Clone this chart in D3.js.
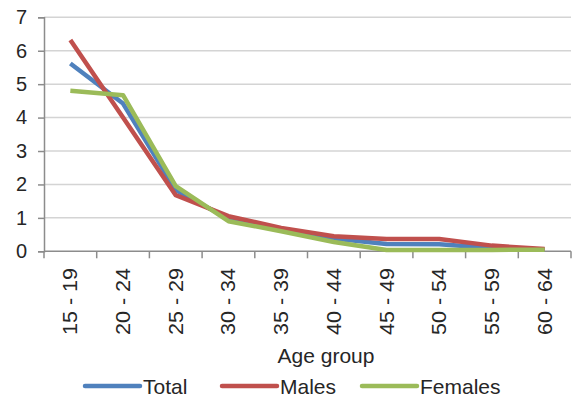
<!DOCTYPE html>
<html><head><meta charset="utf-8">
<script src="https://cdn.jsdelivr.net/npm/d3@7"></script>
<style>
html,body{margin:0;padding:0;background:#fff;}
svg{display:block;font-family:"Liberation Sans",Arial,sans-serif;}
</style></head>
<body><svg id="c" width="575" height="401"></svg>
<script>
const categories = ["15 - 19","20 - 24","25 - 29","30 - 34","35 - 39","40 - 44","45 - 49","50 - 54","55 - 59","60 - 64"];
const totalValues   = [5.62, 4.42, 1.83, 0.97, 0.65, 0.38, 0.22, 0.21, 0.10, 0.05];
const malesValues   = [6.32, 4.00, 1.68, 1.05, 0.70, 0.45, 0.37, 0.37, 0.17, 0.07];
const femalesValues = [4.80, 4.67, 1.95, 0.90, 0.60, 0.28, 0.04, 0.04, 0.04, 0.05];
const yTicks = [0,1,2,3,4,5,6,7];
const seriesNames = ["Total","Males","Females"];
const seriesColors = ["#4F81BD","#C0504D","#9BBB59"];
const xTitle = "Age group";

const series = [
  {name: seriesNames[0], values: totalValues, color: seriesColors[0]},
  {name: seriesNames[1], values: malesValues, color: seriesColors[1]},
  {name: seriesNames[2], values: femalesValues, color: seriesColors[2]}
];

const svg = d3.select("#c");
const mLeft = 44, mRight = 571, mTop = 17.3, mBottom = 251.3;
const textColor = "#262626";

const x = d3.scaleBand().domain(categories).range([mLeft, mRight]).padding(0);
const y = d3.scaleLinear().domain([0, 7]).range([mBottom, mTop]);

// gridlines
svg.append("g").selectAll("line").data(yTicks.filter(d => d > 0)).join("line")
  .attr("x1", mLeft).attr("x2", mRight)
  .attr("y1", d => y(d)).attr("y2", d => y(d))
  .attr("stroke", "#d4d4d4").attr("stroke-width", 1.5);

// y axis
const yAxis = svg.append("g").attr("transform", `translate(${mLeft},0)`)
  .call(d3.axisLeft(y).tickValues(yTicks).tickSize(6).tickPadding(11).tickFormat(d3.format("d")));
yAxis.select(".domain").attr("stroke", "#8c8c8c").attr("stroke-width", 1.5);
yAxis.selectAll(".tick line").attr("stroke", "#8c8c8c").attr("stroke-width", 1.5);
yAxis.selectAll(".tick text").attr("font-size", 20).attr("fill", textColor)
  .attr("font-family", "Liberation Sans, Arial, sans-serif");

// x axis (ticks at band boundaries)
const xg = svg.append("g");
xg.append("line").attr("x1", mLeft).attr("x2", mRight).attr("y1", mBottom).attr("y2", mBottom)
  .attr("stroke", "#8c8c8c").attr("stroke-width", 1.5);
const bounds = categories.map(c => x(c)).concat([x(categories[categories.length-1]) + x.bandwidth()]);
xg.selectAll("line.t").data(bounds).join("line").attr("class","t")
  .attr("x1", d => d).attr("x2", d => d).attr("y1", mBottom).attr("y2", mBottom + 7)
  .attr("stroke", "#8c8c8c").attr("stroke-width", 1.5);
xg.selectAll("text").data(categories).join("text")
  .attr("transform", d => `translate(${x(d) + x.bandwidth()/2},268) rotate(-90)`)
  .attr("text-anchor", "end").attr("dominant-baseline", "central")
  .attr("font-size", 20).attr("fill", textColor)
  .attr("textLength", 67).attr("lengthAdjust", "spacingAndGlyphs")
  .text(d => d);

// axis title
svg.append("text").attr("x", 326).attr("y", 363).attr("text-anchor", "middle")
  .attr("font-size", 21).attr("fill", textColor).text(xTitle);

// lines
const line = d3.line().x((d, i) => x(categories[i]) + x.bandwidth()/2).y(d => y(d));
svg.append("g").selectAll("path").data(series).join("path")
  .attr("d", d => line(d.values))
  .attr("fill", "none").attr("stroke", d => d.color)
  .attr("stroke-width", 4.5).attr("stroke-linejoin", "round").attr("stroke-linecap", "butt");

// legend
const legendX = [85, 222, 362];
const leg = svg.append("g").selectAll("g").data(series).join("g")
  .attr("transform", (d, i) => `translate(${legendX[i]},386)`);
leg.append("line").attr("x1", 0).attr("x2", 55).attr("y1", 0).attr("y2", 0)
  .attr("stroke", d => d.color).attr("stroke-width", 4.5).attr("stroke-linecap", "round");
leg.append("text").attr("x", 58).attr("y", 0).attr("dominant-baseline", "central")
  .attr("font-size", 21).attr("fill", textColor).text(d => d.name);
</script></body></html>
